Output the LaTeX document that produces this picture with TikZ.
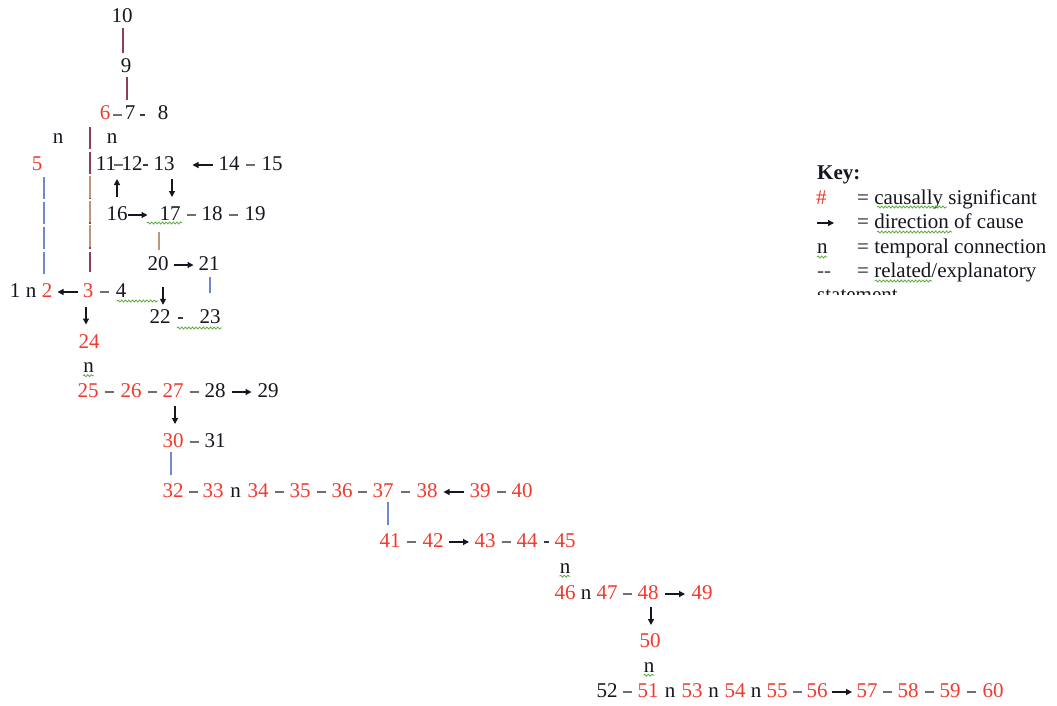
\documentclass[tikz,border=0pt]{standalone}
\usepackage{fontspec}
\setmainfont{Liberation Serif}
\usetikzlibrary{calc,arrows.meta,decorations.pathmorphing}
\definecolor{cred}{RGB}{240,58,46}
\definecolor{ink}{RGB}{22,22,32}
\definecolor{dashgray}{RGB}{110,110,116}
\definecolor{mauve}{RGB}{140,62,92}
\definecolor{barblue}{RGB}{112,136,206}
\definecolor{bartan}{RGB}{190,150,125}
\definecolor{squiggle}{RGB}{92,172,62}
\newcommand\fs{\fontsize{21}{25}\selectfont}
% horizontal en dash between two nodes
\newcommand\cnDash[3][0pt]{\draw[endashst] let \p1=(#2.east),\p2=(#3.west) in ({(\x1+\x2)/2-4.5pt+(#1)},{\y1-2pt}) -- ({(\x1+\x2)/2+4.5pt+(#1)},{\y1-2pt});}
% horizontal hyphen between two nodes
\newcommand\cnHyph[3][0pt]{\draw[hyphst] let \p1=(#2.east),\p2=(#3.west) in ({(\x1+\x2)/2-2.5pt+(#1)},{\y1-2pt}) -- ({(\x1+\x2)/2+2.5pt+(#1)},{\y1-2pt});}
% arrow pointing right, from left node to right node
\newcommand\cnR[3][0pt]{\draw[arr] let \p1=(#2.east),\p2=(#3.west) in ({(\x1+\x2)/2-10pt+(#1)},{\y1-2pt}) -- ({(\x1+\x2)/2+10pt+(#1)},{\y1-2pt});}
% arrow pointing left: #2 left node, #3 right node
\newcommand\cnL[3][0pt]{\draw[arr] let \p1=(#2.east),\p2=(#3.west) in ({(\x1+\x2)/2+10pt+(#1)},{\y1-2pt}) -- ({(\x1+\x2)/2-10pt+(#1)},{\y1-2pt});}
% arrow pointing down: #2 upper node, #3 lower node
\newcommand\cnD[3][0pt]{\draw[arr] let \p1=(#2.south),\p2=(#3.north) in ({\x1+(#1)},{(\y1+\y2)/2+9pt}) -- ({\x1+(#1)},{(\y1+\y2)/2-9pt});}
% arrow pointing up: #2 upper node, #3 lower node (x from lower node)
\newcommand\cnU[3][0pt]{\draw[arr] let \p1=(#2.south),\p2=(#3.north) in ({\x2+(#1)},{(\y1+\y2)/2-9pt}) -- ({\x2+(#1)},{(\y1+\y2)/2+9pt});}
% vertical bar: style, upper, lower, xshift, gap top, gap bottom
\newcommand\cnBar[6][]{\draw[bar,#1] let \p1=(#2.south),\p2=(#3.north) in ({\x1+(#4)},{\y1-(#5)}) -- ({\x1+(#4)},{\y2+(#6)});}
% temporal "n" between nodes
\newcommand\cnT[3]{\path (#2.east) -- node[tn] (#1) {n} (#3.west);}
\newcommand\cnTv[3]{\path (#2) -- node[tn] (#1) {n} (#3);}
\tikzset{
  txt/.style={font=\fs, inner sep=0pt, text height=14pt, text depth=0pt, text=ink},
  num/.style={txt, anchor=base},
  rnum/.style={num, text=cred},
  tn/.style={txt},
  keytxt/.style={txt, anchor=base west},
  endashst/.style={draw=dashgray, line width=1.25pt},
  hyphst/.style={draw=ink!85, line width=1.7pt},
  arr/.style={draw=ink, line width=1.2pt, -{Triangle[length=6pt,width=6pt]}},
  bar/.style={line width=1.3pt},
  seg/.style={dash pattern=on 21.5pt off 3.5pt},
  squig/.style={draw=squiggle, line width=0.8pt, decorate, decoration={snake, amplitude=1pt, segment length=3.6pt}},
}
\begin{document}
\begin{tikzpicture}[x=1pt,y=-1pt]
\fill[white] (0,0) rectangle (1057,706);
\useasboundingbox (0,0) rectangle (1057,706);

% ---- nodes ----
\node[num]  (n10) at (122,23) {10};
\node[num]  (n9)  at (126,73) {9};
\node[rnum] (n6)  at (105,120) {6};
\node[num]  (n7)  at (130,120) {7};
\node[num]  (n8)  at (163,120) {8};
\node[num]  (ta)  at (58,143) {n};
\node[num]  (tb)  at (112,143) {n};
\node[rnum] (n5)  at (37,170) {5};
\node[num]  (n11) at (106,170) {11};
\node[num]  (n12) at (132,170) {12};
\node[num]  (n13) at (164,170) {13};
\node[num]  (n14) at (229,170) {14};
\node[num]  (n15) at (272,170) {15};
\node[num]  (n16) at (117,220) {16};
\node[num]  (n17) at (170,220) {17};
\node[num]  (n18) at (212,220) {18};
\node[num]  (n19) at (255,220) {19};
\node[num]  (n20) at (158,270) {20};
\node[num]  (n21) at (209,270) {21};
\node[num]  (n1)  at (15,297) {1};
\node[rnum] (n2)  at (47,297) {2};
\node[rnum] (n3)  at (88,297) {3};
\node[num]  (n4)  at (121,297) {4};
\node[num]  (n22) at (160,323) {22};
\node[num]  (n23) at (210,323) {23};
\node[rnum] (n24) at (89,348) {24};
\node[rnum] (n25) at (88,397) {25};
\node[rnum] (n26) at (131,397) {26};
\node[rnum] (n27) at (173,397) {27};
\node[num]  (n28) at (215,397) {28};
\node[num]  (n29) at (268,397) {29};
\node[rnum] (n30) at (173,447) {30};
\node[num]  (n31) at (215,447) {31};
\node[rnum] (n32) at (173,497) {32};
\node[rnum] (n33) at (213,497) {33};
\node[rnum] (n34) at (258,497) {34};
\node[rnum] (n35) at (300,497) {35};
\node[rnum] (n36) at (342,497) {36};
\node[rnum] (n37) at (383,497) {37};
\node[rnum] (n38) at (427,497) {38};
\node[rnum] (n39) at (480,497) {39};
\node[rnum] (n40) at (522,497) {40};
\node[rnum] (n41) at (390,547) {41};
\node[rnum] (n42) at (433,547) {42};
\node[rnum] (n43) at (485,547) {43};
\node[rnum] (n44) at (527,547) {44};
\node[rnum] (n45) at (565,547) {45};
\node[rnum] (n46) at (565,599) {46};
\node[rnum] (n47) at (607,599) {47};
\node[rnum] (n48) at (648,599) {48};
\node[rnum] (n49) at (702,599) {49};
\node[rnum] (n50) at (650,647) {50};
\node[num]  (n52) at (607,697) {52};
\node[rnum] (n51) at (648,697) {51};
\node[rnum] (n53) at (692,697) {53};
\node[rnum] (n54) at (735,697) {54};
\node[rnum] (n55) at (777,697) {55};
\node[rnum] (n56) at (817,697) {56};
\node[rnum] (n57) at (867,697) {57};
\node[rnum] (n58) at (908,697) {58};
\node[rnum] (n59) at (950,697) {59};
\node[rnum] (n60) at (993,697) {60};

% ---- vertical bars ----
\cnBar[mauve]{n10}{n9}{1pt}{5pt}{6pt}
\cnBar[mauve]{n9}{n6}{1pt}{4pt}{6pt}
\cnBar[mauve,seg]{n6}{n3}{-15pt}{7pt}{11pt}
\cnBar[bartan,dash pattern=on 0pt off 49pt on 21.5pt off 3pt on 21.5pt off 3pt on 21.5pt off 200pt]{n6}{n3}{-15pt}{7pt}{11pt}
\cnBar[barblue,seg]{n5}{n2}{7pt}{7pt}{8pt}
\cnBar[bartan]{n17}{n20}{-11pt}{12pt}{6pt}
\cnBar[barblue]{n21}{n23}{1pt}{7pt}{16pt}
\cnBar[barblue]{n30}{n32}{-2pt}{5pt}{8pt}
\cnBar[barblue]{n37}{n41}{5pt}{5pt}{8pt}

% ---- arrows ----
\cnR[-6pt]{n16}{n17}
\cnR{n20}{n21}
\cnR{n28}{n29}
\cnR{n42}{n43}
\cnR{n48}{n49}
\cnR{n56}{n57}
\cnL[6pt]{n13}{n14}
\cnL{n2}{n3}
\cnL{n38}{n39}
\cnD[8pt]{n13}{n17}
\cnU{n11}{n16}
\draw[arr] let \p1=(n20.south),\p2=(n22.north) in ({\x1+5pt},{\y2+22pt}) -- ({\x1+5pt},{\y2+4pt});
\cnD[-2pt]{n3}{n24}
\cnD[2pt]{n27}{n30}
\cnD[3pt]{n48}{n50}

% ---- dashes ----
\cnDash{n6}{n7}
\cnHyph[-4pt]{n7}{n8}
\cnDash{n11}{n12}
\cnHyph[-3pt]{n12}{n13}
\cnDash{n14}{n15}
\cnDash{n17}{n18}
\cnDash{n18}{n19}
\cnDash{n3}{n4}
\cnHyph[-5pt]{n22}{n23}
\cnDash{n25}{n26}
\cnDash{n26}{n27}
\cnDash{n27}{n28}
\cnDash{n30}{n31}
\cnDash{n32}{n33}
\cnDash{n34}{n35}
\cnDash{n35}{n36}
\cnDash{n36}{n37}
\cnDash{n37}{n38}
\cnDash{n39}{n40}
\cnDash{n41}{n42}
\cnDash{n43}{n44}
\cnHyph{n44}{n45}
\cnDash{n47}{n48}
\cnDash{n52}{n51}
\cnDash{n55}{n56}
\cnDash{n57}{n58}
\cnDash{n58}{n59}
\cnDash{n59}{n60}

% ---- temporal connections ----
\cnT{t1}{n1}{n2}
\cnTv{t2}{n24}{n25}
\cnT{t3}{n33}{n34}
\cnTv{t4}{n45}{n46}
\cnT{t5}{n46}{n47}
\cnTv{t6}{n50}{n51}
\cnT{t7}{n51}{n53}
\cnT{t8}{n53}{n54}
\cnT{t9}{n54}{n55}

% ---- spell-check squiggles ----
\draw[squig] ([shift={(-23pt,-3pt)}]n17.base) -- ([shift={(12pt,-3pt)}]n17.base);
\draw[squig] ([shift={(-4pt,-4pt)}]n4.base) -- ([shift={(37pt,-4pt)}]n4.base);
\draw[squig] ([shift={(-33pt,-5pt)}]n23.base) -- ([shift={(12pt,-5pt)}]n23.base);
\foreach \t in {t2,t4,t6}{
  \draw[squig] ([yshift=-3pt]\t.south west) -- ([yshift=-3pt]\t.south east);
}

% ---- key ----
\node[keytxt, font=\fs\bfseries] (key) at (817,179) {Key:};
\node[keytxt, text=cred] (k1s) at (816,204) {\#};
\node[keytxt] (k1) at (857,204) {= causally significant};
\coordinate (ka1) at (817,223);
\coordinate (ka2) at (834,223);
\draw[arr] (ka1) -- (ka2);
\node[keytxt] (k2) at (857,228) {= direction of cause};
\node[keytxt] (k3s) at (817,253) {n};
\node[keytxt] (k3) at (857,253) {= temporal connection};
\node[keytxt, text=ink!80] (k4s) at (817,277) {-{}-};
\node[keytxt] (k4) at (857,277) {= related/explanatory};
\begin{scope}
  \clip (800,284) rectangle (1057,294);
  \node[keytxt] (k5) at (817,301) {statement};
\end{scope}
\draw[squig] ([shift={(20pt,-3pt)}]k1.base west) -- ([shift={(90pt,-3pt)}]k1.base west);
\draw[squig] ([shift={(20pt,-4pt)}]k2.base west) -- ([shift={(95pt,-4pt)}]k2.base west);
\draw[squig] ([yshift=-4pt]k3s.base west) -- ([shift={(10pt,-4pt)}]k3s.base west);
\draw[squig] ([shift={(18pt,-4pt)}]k4.base west) -- ([shift={(75pt,-4pt)}]k4.base west);
\end{tikzpicture}
\end{document}
